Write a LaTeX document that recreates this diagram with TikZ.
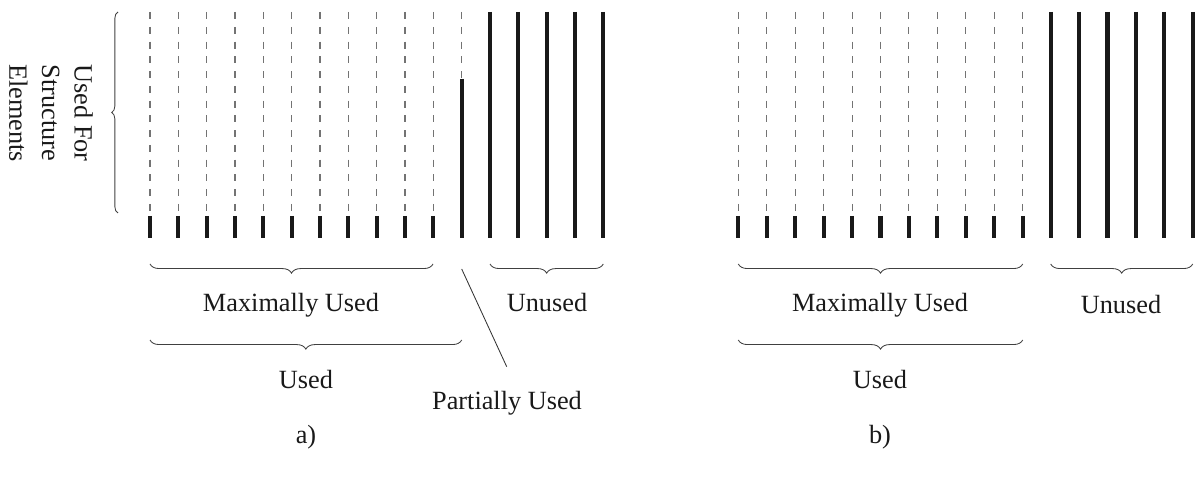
\documentclass[tikz,border=0pt]{standalone}
\usepackage{fontspec}
\setmainfont{Liberation Serif}
\usetikzlibrary{decorations.pathreplacing}
\begin{document}
\begin{tikzpicture}[x=0.025cm,y=0.025cm,
  thickbar/.style={line width=2.9pt,draw=black!90},
  dashbar/.style={line width=0.75pt,draw=black!55,dash pattern=on 5pt off 5.5pt},
  hbrace/.style={decorate,decoration={brace,amplitude=6.5pt},line width=0.6pt,draw=black!75},
  vbrace/.style={decorate,decoration={brace,amplitude=4.5pt},line width=0.6pt,draw=black!75},
  lbl/.style={font=\fontsize{18.7}{23.2}\selectfont,text=black!90,inner sep=0pt}]
\useasboundingbox (0,0) rectangle (1195,-477);
% panel a
\foreach \i in {0,...,10}{
  \draw[dashbar] (150+28.33*\i,-12) -- (150+28.33*\i,-216);
  \draw[thickbar] (150+28.33*\i,-216) -- (150+28.33*\i,-238);
}
\draw[dashbar] (461.7,-12) -- (461.7,-79);
\draw[thickbar] (461.7,-79) -- (461.7,-238);
\foreach \i in {0,...,4}{
  \draw[thickbar] (490+28.33*\i,-12) -- (490+28.33*\i,-238);
}
% panel b
\foreach \i in {0,...,10}{
  \draw[dashbar] (738.3+28.44*\i,-12) -- (738.3+28.44*\i,-216);
  \draw[thickbar] (738.3+28.44*\i,-216) -- (738.3+28.44*\i,-238);
}
\foreach \i in {0,...,5}{
  \draw[thickbar] (1050.7+28.4*\i,-12) -- (1050.7+28.4*\i,-238);
}
% vertical brace and label
\draw[vbrace] (118,-213) -- (118,-12);
\node[lbl,rotate=-90,align=center] (struct) at (51,-113) {Used For\\Structure\\Elements};
% braces panel a
\draw[hbrace] (433,-264) -- (150,-264);
\node[lbl] (maxa) at (291,-305) {Maximally Used};
\draw[hbrace] (603.3,-264) -- (490,-264);
\node[lbl] (unuseda) at (547,-303) {Unused};
\draw[hbrace] (461.7,-340) -- (150,-340);
\node[lbl] (useda) at (306,-380) {Used};
\coordinate (pstart) at (461.7,-269);
\coordinate (pend) at (506.7,-366.7);
\draw[line width=0.6pt,draw=black!80] (pstart) -- (pend);
\node[lbl] (partial) at (507,-403) {Partially Used};
\node[lbl] (a) at (306,-437) {a)};
% braces panel b
\draw[hbrace] (1022.7,-264) -- (738.3,-264);
\node[lbl] (maxb) at (880,-305) {Maximally Used};
\draw[hbrace] (1192.7,-264) -- (1050.7,-264);
\node[lbl] (unusedb) at (1121,-305) {Unused};
\draw[hbrace] (1022.7,-340) -- (738.3,-340);
\node[lbl] (usedb) at (880,-380) {Used};
\node[lbl] (b) at (880,-437) {b)};
\end{tikzpicture}
\end{document}
